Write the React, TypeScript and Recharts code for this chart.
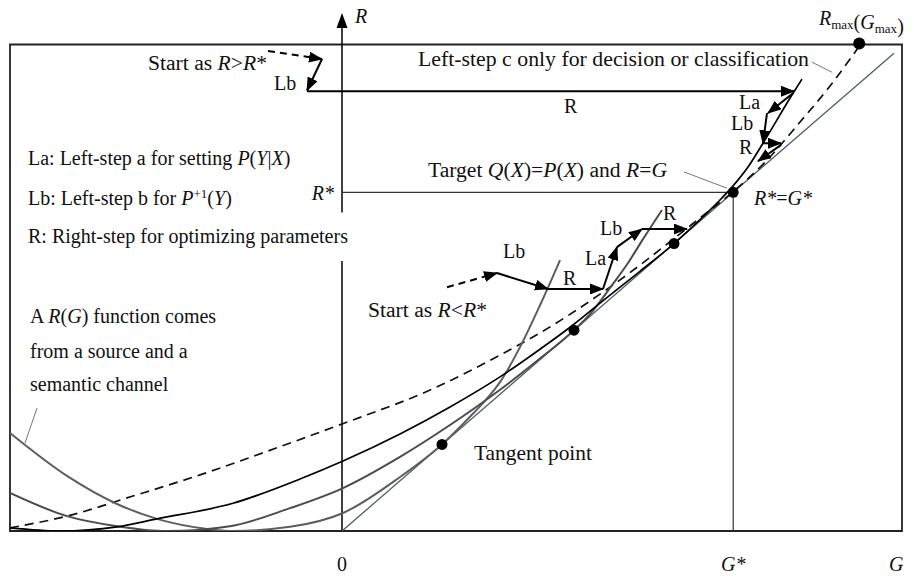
import React from 'react';
import {
  ComposedChart,
  Line,
  XAxis,
  YAxis,
  ReferenceLine,
  ReferenceDot,
  ReferenceArea,
} from 'recharts';

// diagram units: G on x, R on y (R = G on the diagonal)
const G_DOMAIN: [number, number] = [-8.3, 14.0];
const R_DOMAIN: [number, number] = [0, 14.05];

const STAR = 9.78; // R* = G*
const RMAX_POINT = [12.93, 14.08];

const diagonal = [[0, 0], [13.8, 13.8]];

// R(G) curves, [G, R]
const curveA = [
  [-8.3, 2.83], [-6.875, 1.59], [-5.625, 0.78], [-4.625, 0.35], [-3.375, 0.06],
  [-2.725, 0], [-1.3, 0.12], [0.025, 0.52], [1.45, 1.56], [2.5, 2.5], [3.2, 3.3],
  [3.575, 3.76], [3.95, 4.3], [4.45, 5.31], [4.95, 6.52], [5.45, 7.82],
];
const curveB = [
  [-8.3, 1.1], [-6.875, 0.43], [-5.625, 0.14], [-4.375, 0], [-2.8, 0.14],
  [-1.3, 0.66], [0.025, 1.24], [1.45, 2.14], [2.7, 3.06], [3.95, 4.08],
  [4.95, 4.98], [5.8, 5.8], [6.2, 6.26], [6.75, 7.1], [7.15, 7.74], [7.525, 8.43],
  [8.0, 9.27],
];
const curveC = [
  [-8.3, 0.09], [-7.05, 0], [-5.625, 0.12], [-4.625, 0.35], [-2.725, 0.8],
  [-1.05, 1.5], [0.025, 2.02], [1.45, 2.8], [2.7, 3.58], [3.95, 4.45], [4.95, 5.25],
  [5.775, 5.95], [6.45, 6.58], [7.45, 7.5], [8.3, 8.3], [8.95, 8.99], [9.4, 9.5],
  [9.75, 9.93], [10.15, 10.51], [10.525, 11.2], [11.275, 12.64], [11.5, 13.05],
];
const dashedCurve = [
  [-8.3, 0.09], [-6.875, 0.43], [-5.225, 1.01], [-3.55, 1.62], [-1.875, 2.3],
  [0, 3.09], [2.2, 4.07], [3.95, 5.08], [4.95, 5.72], [6.45, 6.84], [7.45, 7.68],
  [8.25, 8.4], [8.95, 9.04], [9.78, 9.8], [10.575, 10.65], [11.45, 11.81],
  [12.2, 12.85], [12.93, 14.0],
];

const tangentPoints = [[2.5, 2.5], [5.8, 5.8], [8.3, 8.3], [STAR, STAR]];

// iteration steps, [from, to]
const solidArrows = [
  [[-0.5, 13.63], [-0.875, 12.72]],
  [[-0.875, 12.7], [11.3, 12.7]],
  [[11.275, 12.64], [10.65, 12.07]],
  [[10.625, 12.07], [10.525, 11.2]],
  [[10.525, 11.2], [10.975, 11.2]],
  [[10.975, 11.15], [10.4, 10.68]],
  [[3.875, 7.45], [5.15, 6.99]],
  [[5.15, 6.99], [6.525, 6.99]],
  [[6.525, 6.99], [6.875, 8.2]],
  [[6.875, 8.2], [7.5, 8.72]],
  [[7.5, 8.72], [8.625, 8.72]],
];
const dashedArrows = [
  [[-1.85, 13.86], [-0.5, 13.63]],
  [[2.625, 7.04], [3.875, 7.45]],
];

const leaders = [
  [[11.75, 13.54], [12.25, 13.25]],
  [[8.55, 10.37], [9.625, 9.9]],
  [[-7.625, 3.55], [-7.925, 2.54]],
];

const toPts = (arr: number[][]) => arr.map(([g, r]) => ({ g, r }));

const FONT = "'Liberation Serif', 'Times New Roman', serif";
const it = (s: string) => <tspan fontStyle="italic">{s}</tspan>;
const sub = (s: string) => (
  <>
    <tspan fontSize={13} dy={4}>{s}</tspan>
    <tspan dy={-4}></tspan>
  </>
);

type Note = {
  g: number;
  r: number;
  anchor?: 'start' | 'middle' | 'end';
  size?: number;
  content: React.ReactNode;
};

const notes: Note[] = [
  { g: 0.325, r: 14.67, content: it('R') },
  { g: -4.85, r: 13.31, size: 21.6, content: <>Start as {it('R')}&gt;{it('R')}*</> },
  { g: -1.7, r: 12.73, content: 'Lb' },
  { g: 1.9, r: 13.43, size: 21.8, content: 'Left-step c only for decision or classification' },
  { g: 5.55, r: 12.07, content: 'R' },
  { g: 9.925, r: 12.19, content: 'La' },
  { g: 9.725, r: 11.58, content: 'Lb' },
  { g: 9.925, r: 10.89, content: 'R' },
  {
    g: 2.15, r: 10.22, size: 21.6,
    content: <>Target {it('Q')}({it('X')})={it('P')}({it('X')}) and {it('R')}={it('G')}</>,
  },
  { g: 10.3, r: 9.41, content: <>{it('R*')}={it('G*')}</> },
  { g: -0.2, r: 9.56, anchor: 'end', content: it('R*') },
  { g: -7.85, r: 10.57, content: <>La: Left-step a for setting {it('P')}({it('Y')}|{it('X')})</> },
  {
    g: -7.85, r: 9.41,
    content: (
      <>
        Lb: Left-step b for {it('P')}
        <tspan fontSize={13} dy={-7}>+1</tspan>
        <tspan dy={7}>(</tspan>
        {it('Y')})
      </>
    ),
  },
  { g: -7.85, r: 8.32, content: 'R: Right-step for optimizing parameters' },
  { g: 4.025, r: 7.88, content: 'Lb' },
  { g: 5.525, r: 7.1, content: 'R' },
  { g: 0.65, r: 6.18, size: 21.6, content: <>Start as {it('R')}&lt;{it('R')}*</> },
  { g: 6.075, r: 7.68, content: 'La' },
  { g: 6.45, r: 8.55, content: 'Lb' },
  { g: 8.025, r: 8.98, content: 'R' },
  { g: -7.8, r: 6.01, content: <>A {it('R')}({it('G')}) function comes</> },
  { g: -7.8, r: 5.0, content: 'from a source and a' },
  { g: -7.8, r: 4.04, content: 'semantic channel' },
  { g: 3.3, r: 2.05, size: 21.4, content: 'Tangent point' },
  { g: 0, r: -1.155, anchor: 'middle', content: '0' },
  { g: 9.475, r: -1.155, content: it('G*') },
  { g: 13.675, r: -1.155, content: it('G') },
  {
    g: 11.925, r: 14.61,
    content: (
      <>
        {it('R')}
        {sub('max')}({it('G')}
        {sub('max')})
      </>
    ),
  },
];

const textShape = (content: React.ReactNode, anchor: string, size: number) => (p: any) => (
  <text x={p.cx} y={p.cy} textAnchor={anchor} fontFamily={FONT} fontSize={size} fill="#111">
    {content}
  </text>
);

export default function App() {
  return (
    <div style={{ width: 914, height: 578, overflow: 'hidden', background: '#fff' }}>
      <style>{'body{margin:0}'}</style>
      <ComposedChart
        width={914}
        height={578}
        margin={{ top: 44.5, right: 12, bottom: 47, left: 10 }}
      >
        <defs>
          <marker
            id="head"
            viewBox="0 0 14 11"
            refX={13}
            refY={5.5}
            markerWidth={14}
            markerHeight={11}
            markerUnits="userSpaceOnUse"
            orient="auto"
          >
            <path d="M0,0 L14,5.5 L0,11 Z" fill="#000" />
          </marker>
        </defs>
        <XAxis type="number" dataKey="g" domain={G_DOMAIN} hide allowDataOverflow />
        <YAxis type="number" dataKey="r" domain={R_DOMAIN} hide allowDataOverflow />

        <ReferenceArea
          x1={G_DOMAIN[0]}
          x2={G_DOMAIN[1]}
          y1={R_DOMAIN[0]}
          y2={R_DOMAIN[1]}
          fill="none"
          fillOpacity={0}
          stroke="#222"
          strokeWidth={1.8}
          ifOverflow="visible"
        />

        {/* R axis with a gap for the legend line */}
        <ReferenceLine
          segment={[{ x: 0, y: 0 }, { x: 0, y: 7.8 }]}
          stroke="#000"
          strokeWidth={1.5}
          ifOverflow="visible"
        />
        <ReferenceLine
          segment={[{ x: 0, y: 9.2 }, { x: 0, y: 14.6 }]}
          stroke="#000"
          strokeWidth={1.5}
          ifOverflow="visible"
        />
        <ReferenceDot
          x={0}
          y={14.96}
          r={0}
          ifOverflow="visible"
          shape={(p: any) => (
            <path
              d={`M${p.cx},${p.cy} L${p.cx - 5.5},${p.cy + 15} L${p.cx + 5.5},${p.cy + 15} Z`}
              fill="#000"
            />
          )}
        />

        {/* R* and G* guides */}
        <ReferenceLine
          segment={[{ x: 0, y: STAR }, { x: STAR, y: STAR }]}
          stroke="#333"
          strokeWidth={1.2}
          ifOverflow="visible"
        />
        <ReferenceLine
          segment={[{ x: STAR, y: 0 }, { x: STAR, y: STAR }]}
          stroke="#333"
          strokeWidth={1.2}
          ifOverflow="visible"
        />

        {leaders.map((s, i) => (
          <ReferenceLine
            key={`ld${i}`}
            segment={[{ x: s[0][0], y: s[0][1] }, { x: s[1][0], y: s[1][1] }]}
            stroke="#777"
            strokeWidth={1}
            ifOverflow="visible"
          />
        ))}

        <Line
          data={toPts(diagonal)}
          dataKey="r"
          type="linear"
          stroke="#4f5c72"
          strokeWidth={1.3}
          dot={false}
          activeDot={false}
          isAnimationActive={false}
        />
        <Line
          data={toPts(dashedCurve)}
          dataKey="r"
          type="monotone"
          stroke="#111"
          strokeWidth={1.7}
          strokeDasharray="9 6"
          dot={false}
          activeDot={false}
          isAnimationActive={false}
        />
        <Line
          data={toPts(curveA)}
          dataKey="r"
          type="monotone"
          stroke="#5e5e5e"
          strokeWidth={2}
          dot={false}
          activeDot={false}
          isAnimationActive={false}
        />
        <Line
          data={toPts(curveB)}
          dataKey="r"
          type="monotone"
          stroke="#4c4c4c"
          strokeWidth={2}
          dot={false}
          activeDot={false}
          isAnimationActive={false}
        />
        <Line
          data={toPts(curveC)}
          dataKey="r"
          type="monotone"
          stroke="#000"
          strokeWidth={1.7}
          dot={false}
          activeDot={false}
          isAnimationActive={false}
        />

        {solidArrows.map((a, i) => (
          <Line
            key={`sa${i}`}
            data={toPts(a)}
            dataKey="r"
            type="linear"
            stroke="#000"
            strokeWidth={2}
            markerEnd="url(#head)"
            dot={false}
            activeDot={false}
            isAnimationActive={false}
          />
        ))}
        {dashedArrows.map((a, i) => (
          <Line
            key={`da${i}`}
            data={toPts(a)}
            dataKey="r"
            type="linear"
            stroke="#000"
            strokeWidth={2}
            strokeDasharray="7 5"
            markerEnd="url(#head)"
            dot={false}
            activeDot={false}
            isAnimationActive={false}
          />
        ))}

        {tangentPoints.map(([g, r], i) => (
          <ReferenceDot key={`tp${i}`} x={g} y={r} r={5.5} fill="#000" stroke="none" ifOverflow="visible" />
        ))}
        <ReferenceDot x={RMAX_POINT[0]} y={RMAX_POINT[1]} r={6} fill="#000" stroke="none" ifOverflow="visible" />

        {notes.map((n, i) => (
          <ReferenceDot
            key={`nt${i}`}
            x={n.g}
            y={n.r}
            r={0}
            ifOverflow="visible"
            shape={textShape(n.content, n.anchor || 'start', n.size || 20)}
          />
        ))}
      </ComposedChart>
    </div>
  );
}
